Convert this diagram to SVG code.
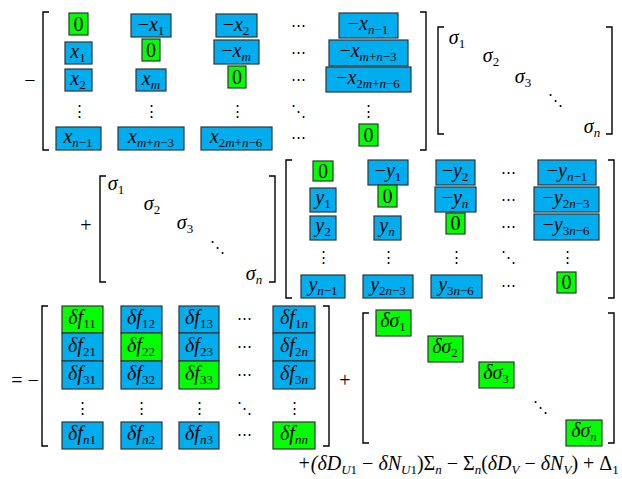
<svg xmlns="http://www.w3.org/2000/svg" width="622" height="479" viewBox="0 0 622 479">
<style>
text{font-family:"Liberation Serif","Times New Roman",serif;font-style:italic;font-size:20px;fill:#000;text-anchor:middle}
.n{font-style:normal}
.s{font-size:13px}
.b{fill:#00aeef;stroke:#333;stroke-width:1.2}
.g{fill:#00ff00;stroke:#333;stroke-width:1.2}
.br{fill:none;stroke:#000;stroke-width:1.4}
.d{font-family:"DejaVu Serif",serif;font-style:normal;font-size:15px}
</style>
<rect width="622" height="479" fill="#fff"/>
<g id="brackets">
<path class="br" d="M49,12H43V150H49M420,12H426V150H420"/>
<path class="br" d="M444,27H438V134H444M606,27H612V134H606"/>
<path class="br" d="M106,176H100V282H106M269,176H275V282H269"/>
<path class="br" d="M292,160H286V298H292M608,160H614V298H608"/>
<path class="br" d="M48,306H42V446H48M323,306H329V446H323"/>
<path class="br" d="M369,313H363V443H369M608,313H614V443H608"/>
</g>
<g id="ops">
<text class="n" x="30" y="87">−</text>
<text class="n" x="86" y="232">+</text>
<text class="n" x="25" y="387">= −</text>
<text class="n" x="345" y="387">+</text>
<text x="458" y="470">+(δ<tspan>D</tspan><tspan class="s" dy="4">U</tspan><tspan class="s n">1</tspan><tspan dy="-4" class="n"> − </tspan>δN<tspan class="s" dy="4">U</tspan><tspan class="s n">1</tspan><tspan dy="-4" class="n">)Σ</tspan><tspan class="s" dy="4">n</tspan><tspan dy="-4" class="n"> − Σ</tspan><tspan class="s" dy="4">n</tspan><tspan dy="-4" class="n">(</tspan>δD<tspan class="s" dy="4">V</tspan><tspan dy="-4" class="n"> − </tspan>δN<tspan class="s" dy="4">V</tspan><tspan dy="-4" class="n">) + Δ</tspan><tspan class="s n" dy="4">1</tspan></text>
</g>
<g id="X">
<rect class="g" x="69" y="13" width="19" height="22"/><text class="n" x="78.5" y="31">0</text>
<rect class="b" x="131" y="14" width="40" height="23"/><text x="151" y="31"><tspan class="n">−</tspan>x<tspan class="s n" dy="4">1</tspan></text>
<rect class="b" x="216" y="14" width="41" height="23"/><text x="236" y="31"><tspan class="n">−</tspan>x<tspan class="s n" dy="4">2</tspan></text>
<text class="d" x="298" y="30">⋯</text>
<rect class="b" x="339" y="13" width="59" height="25"/><text x="368" y="30"><tspan class="n">−</tspan>x<tspan class="s" dy="4">n</tspan><tspan class="s n">−1</tspan></text>
<rect class="b" x="65" y="42" width="27" height="22"/><text x="78" y="58">x<tspan class="s n" dy="4">1</tspan></text>
<rect class="g" x="142" y="39" width="18" height="22"/><text class="n" x="151" y="57">0</text>
<rect class="b" x="214" y="40" width="45" height="24"/><text x="236" y="57"><tspan class="n">−</tspan>x<tspan class="s" dy="4">m</tspan></text>
<text class="d" x="298" y="57">⋯</text>
<rect class="b" x="329" y="40" width="79" height="26"/><text x="368" y="57"><tspan class="n">−</tspan>x<tspan class="s" dy="4">m</tspan><tspan class="s n">+</tspan><tspan class="s">n</tspan><tspan class="s n">−3</tspan></text>
<rect class="b" x="65" y="69" width="27" height="22"/><text x="78" y="85">x<tspan class="s n" dy="4">2</tspan></text>
<rect class="b" x="136" y="69" width="30" height="22"/><text x="151" y="85">x<tspan class="s" dy="4">m</tspan></text>
<rect class="g" x="228" y="66" width="18" height="22"/><text class="n" x="237" y="84">0</text>
<text class="d" x="298" y="84">⋯</text>
<rect class="b" x="326" y="67" width="85" height="25"/><text x="368" y="84"><tspan class="n">−</tspan>x<tspan class="s n" dy="4">2</tspan><tspan class="s">m</tspan><tspan class="s n">+</tspan><tspan class="s">n</tspan><tspan class="s n">−6</tspan></text>
<text class="d" x="79" y="116">⋮</text><text class="d" x="151" y="116">⋮</text><text class="d" x="237" y="116">⋮</text><text class="d" x="298" y="116">⋱</text><text class="d" x="368" y="116">⋮</text>
<rect class="b" x="56" y="127" width="45" height="23"/><text x="78" y="143">x<tspan class="s" dy="4">n</tspan><tspan class="s n">−1</tspan></text>
<rect class="b" x="118" y="127" width="66" height="23"/><text x="151" y="143">x<tspan class="s" dy="4">m</tspan><tspan class="s n">+</tspan><tspan class="s">n</tspan><tspan class="s n">−3</tspan></text>
<rect class="b" x="201" y="127" width="71" height="23"/><text x="236" y="143">x<tspan class="s n" dy="4">2</tspan><tspan class="s">m</tspan><tspan class="s n">+</tspan><tspan class="s">n</tspan><tspan class="s n">−6</tspan></text>
<text class="d" x="298" y="142">⋯</text>
<rect class="g" x="359" y="124" width="19" height="22"/><text class="n" x="368.5" y="142">0</text>
</g>
<g id="S1">
<text x="457" y="44">σ<tspan class="s n" dy="4">1</tspan></text>
<text x="491" y="62">σ<tspan class="s n" dy="4">2</tspan></text>
<text x="523" y="83">σ<tspan class="s n" dy="4">3</tspan></text>
<text class="d" x="555" y="105">⋱</text>
<text x="592" y="133">σ<tspan class="s" dy="4">n</tspan></text>
</g>
<g id="S2">
<text x="116" y="190">σ<tspan class="s n" dy="4">1</tspan></text>
<text x="152" y="210">σ<tspan class="s n" dy="4">2</tspan></text>
<text x="185" y="229">σ<tspan class="s n" dy="4">3</tspan></text>
<text class="d" x="217" y="252">⋱</text>
<text x="254" y="280">σ<tspan class="s" dy="4">n</tspan></text>
</g>
<g id="Y">
<rect class="g" x="313" y="161" width="20" height="20"/><text class="n" x="323" y="178">0</text>
<rect class="b" x="368" y="160" width="40" height="25"/><text x="388" y="177"><tspan class="n">−</tspan>y<tspan class="s n" dy="4">1</tspan></text>
<rect class="b" x="436" y="160" width="39" height="25"/><text x="455" y="177"><tspan class="n">−</tspan>y<tspan class="s n" dy="4">2</tspan></text>
<text class="d" x="508" y="177">⋯</text>
<rect class="b" x="538" y="160" width="58" height="25"/><text x="567" y="177"><tspan class="n">−</tspan>y<tspan class="s" dy="4">n</tspan><tspan class="s n">−1</tspan></text>
<rect class="b" x="310" y="188" width="26" height="24"/><text x="323" y="204">y<tspan class="s n" dy="4">1</tspan></text>
<rect class="g" x="378" y="185" width="19" height="22"/><text class="n" x="387.5" y="203">0</text>
<rect class="b" x="435" y="187" width="41" height="25"/><text x="455" y="204"><tspan class="n">−</tspan>y<tspan class="s" dy="4">n</tspan></text>
<text class="d" x="508" y="204">⋯</text>
<rect class="b" x="534" y="187" width="65" height="25"/><text x="566" y="204"><tspan class="n">−</tspan>y<tspan class="s n" dy="4">2</tspan><tspan class="s">n</tspan><tspan class="s n">−3</tspan></text>
<rect class="b" x="310" y="216" width="26" height="24"/><text x="323" y="232">y<tspan class="s n" dy="4">2</tspan></text>
<rect class="b" x="374" y="216" width="27" height="24"/><text x="387" y="232">y<tspan class="s" dy="4">n</tspan></text>
<rect class="g" x="446" y="213" width="19" height="21"/><text class="n" x="455.5" y="230">0</text>
<text class="d" x="508" y="231">⋯</text>
<rect class="b" x="534" y="214" width="65" height="26"/><text x="566" y="231"><tspan class="n">−</tspan>y<tspan class="s n" dy="4">3</tspan><tspan class="s">n</tspan><tspan class="s n">−6</tspan></text>
<text class="d" x="323" y="262">⋮</text><text class="d" x="388" y="262">⋮</text><text class="d" x="456" y="262">⋮</text><text class="d" x="508" y="262">⋱</text><text class="d" x="567" y="262">⋮</text>
<rect class="b" x="301" y="275" width="44" height="23"/><text x="323" y="291">y<tspan class="s" dy="4">n</tspan><tspan class="s n">−1</tspan></text>
<rect class="b" x="363" y="275" width="50" height="23"/><text x="388" y="291">y<tspan class="s n" dy="4">2</tspan><tspan class="s">n</tspan><tspan class="s n">−3</tspan></text>
<rect class="b" x="431" y="275" width="51" height="23"/><text x="456" y="291">y<tspan class="s n" dy="4">3</tspan><tspan class="s">n</tspan><tspan class="s n">−6</tspan></text>
<text class="d" x="508" y="290">⋯</text>
<rect class="g" x="557" y="272" width="19" height="21"/><text class="n" x="566.5" y="289">0</text>
</g>
<g id="F">
<rect class="g" x="62" y="306" width="41" height="27"/><text x="82" y="324">δf<tspan class="s n" dy="4">11</tspan></text>
<rect class="b" x="121" y="306" width="41" height="27"/><text x="141" y="324">δf<tspan class="s n" dy="4">12</tspan></text>
<rect class="b" x="179" y="306" width="40" height="27"/><text x="199" y="324">δf<tspan class="s n" dy="4">13</tspan></text>
<text class="d" x="244" y="323">⋯</text>
<rect class="b" x="273" y="306" width="42" height="27"/><text x="294" y="324">δf<tspan class="s n" dy="4">1</tspan><tspan class="s">n</tspan></text>
<rect class="b" x="62" y="333" width="41" height="28"/><text x="82" y="352">δf<tspan class="s n" dy="4">21</tspan></text>
<rect class="g" x="121" y="333" width="41" height="28"/><text x="141" y="352">δf<tspan class="s n" dy="4">22</tspan></text>
<rect class="b" x="179" y="333" width="40" height="28"/><text x="199" y="352">δf<tspan class="s n" dy="4">23</tspan></text>
<text class="d" x="244" y="351">⋯</text>
<rect class="b" x="273" y="333" width="42" height="28"/><text x="294" y="352">δf<tspan class="s n" dy="4">2</tspan><tspan class="s">n</tspan></text>
<rect class="b" x="62" y="361" width="41" height="28"/><text x="82" y="380">δf<tspan class="s n" dy="4">31</tspan></text>
<rect class="b" x="121" y="361" width="41" height="28"/><text x="141" y="380">δf<tspan class="s n" dy="4">32</tspan></text>
<rect class="g" x="179" y="361" width="40" height="28"/><text x="199" y="380">δf<tspan class="s n" dy="4">33</tspan></text>
<text class="d" x="244" y="379">⋯</text>
<rect class="b" x="273" y="361" width="42" height="28"/><text x="294" y="380">δf<tspan class="s n" dy="4">3</tspan><tspan class="s">n</tspan></text>
<text class="d" x="82" y="413">⋮</text><text class="d" x="141" y="413">⋮</text><text class="d" x="199" y="413">⋮</text><text class="d" x="244" y="413">⋱</text><text class="d" x="294" y="413">⋮</text>
<rect class="b" x="62" y="422" width="41" height="27"/><text x="82" y="440">δf<tspan class="s" dy="4">n</tspan><tspan class="s n">1</tspan></text>
<rect class="b" x="121" y="422" width="41" height="27"/><text x="141" y="440">δf<tspan class="s" dy="4">n</tspan><tspan class="s n">2</tspan></text>
<rect class="b" x="179" y="422" width="40" height="27"/><text x="199" y="440">δf<tspan class="s" dy="4">n</tspan><tspan class="s n">3</tspan></text>
<text class="d" x="244" y="439">⋯</text>
<rect class="g" x="273" y="422" width="42" height="27"/><text x="294" y="440">δf<tspan class="s" dy="4">nn</tspan></text>
</g>
<g id="DS">
<rect class="g" x="376" y="310" width="35" height="26"/><text x="393" y="327">δσ<tspan class="s n" dy="4">1</tspan></text>
<rect class="g" x="428" y="336" width="35" height="26"/><text x="445" y="353">δσ<tspan class="s n" dy="4">2</tspan></text>
<rect class="g" x="479" y="362" width="35" height="26"/><text x="496" y="379">δσ<tspan class="s n" dy="4">3</tspan></text>
<text class="d" x="540" y="412">⋱</text>
<rect class="g" x="566" y="420" width="36" height="26"/><text x="584" y="437">δσ<tspan class="s" dy="4">n</tspan></text>
</g>
</svg>
